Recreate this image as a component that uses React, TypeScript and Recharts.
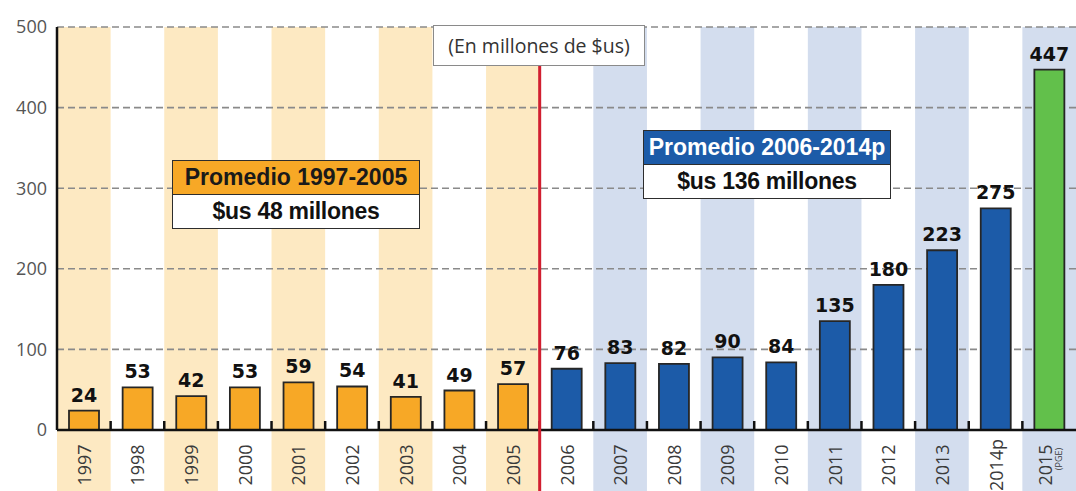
import React from 'react';
import { BarChart, Bar, XAxis, YAxis, ReferenceArea, ReferenceLine, LabelList, Cell } from 'recharts';

const years = ['1997', '1998', '1999', '2000', '2001', '2002', '2003', '2004', '2005', '2006', '2007', '2008', '2009', '2010', '2011', '2012', '2013', '2014p', '2015'];
const amounts = [24, 53, 42, 53, 59, 54, 41, 49, 57, 76, 83, 82, 90, 84, 135, 180, 223, 275, 447];
const periods = ['early', 'early', 'early', 'early', 'early', 'early', 'early', 'early', 'early', 'late', 'late', 'late', 'late', 'late', 'late', 'late', 'late', 'late', 'budget'];
const yearNotes = ['', '', '', '', '', '', '', '', '', '', '', '', '', '', '', '', '', '', '(PGE)'];
const yTicks = [0, 100, 200, 300, 400, 500];
const gridLevels = [100, 200, 300, 400, 500];
const unitNote = '(En millones de $us)';
const avgTitles = ['Promedio 1997-2005', 'Promedio 2006-2014p'];
const avgValues = ['$us 48 millones', '$us 136 millones'];
const splitYear = '2006';

const W = 1076;
const H = 491;
const AXIS_H = 61;
const Y_W = 57;

const barFill: Record<string, string> = { early: '#f7a826', late: '#1c5ba8', budget: '#62c04b' };
const bandFill: Record<string, string> = { early: '#fde9c2', late: '#d3ddee', budget: '#d3ddee' };

const data = years.map((year, i) => ({ year, value: amounts[i], period: periods[i] }));

const BandShape = (p: any) => (
  <rect x={p.x} y={p.y} width={p.width} height={p.height + AXIS_H} fill={p.fill} stroke="none" />
);

const SplitLine = (p: any) => {
  const top = Math.min(p.y1, p.y2);
  const bottom = Math.max(p.y1, p.y2);
  return <line x1={p.x1} x2={p.x2} y1={top} y2={bottom + AXIS_H} stroke="#d11f30" strokeWidth={3} />;
};

// short upward tick at each category boundary
const EdgeTick = (p: any) => {
  const bottom = Math.max(p.y1, p.y2);
  return <line x1={p.x1} x2={p.x2} y1={bottom - 9} y2={bottom} stroke="#111" strokeWidth={2.5} />;
};

const YearTick = (props: any) => {
  const { x, y, payload, index } = props;
  const note = yearNotes[index];
  return (
    <g>
      <text
        transform={`translate(${note ? x - 4 : x},${y + 35}) rotate(-90)`}
        textAnchor="middle"
        dominantBaseline="central"
        fontSize={18}
        fontFamily="'Open Sans', sans-serif"
        fill="#3a3a3a"
      >
        {payload.value}
      </text>
      {note && (
        <text
          transform={`translate(${x + 9},${y + 29}) rotate(-90)`}
          textAnchor="middle"
          dominantBaseline="central"
          fontSize={9}
          fontFamily="'Open Sans', sans-serif"
          fill="#3a3a3a"
        >
          {note}
        </text>
      )}
    </g>
  );
};

const boxText: React.CSSProperties = {
  height: 33,
  display: 'flex',
  alignItems: 'center',
  justifyContent: 'center',
  fontFamily: "'Liberation Sans', Arial, sans-serif",
  fontWeight: 700,
  fontSize: 23,
  whiteSpace: 'nowrap',
};

const AvgBox = ({ left, top, title, value, head, headColor }: any) => (
  <div
    style={{
      position: 'absolute',
      left,
      top,
      width: 248,
      border: '1.5px solid #2d2d2d',
      background: '#fff',
      boxSizing: 'border-box',
    }}
  >
    <div style={{ ...boxText, background: head, color: headColor, borderBottom: '1.5px solid #2d2d2d' }}>{title}</div>
    <div style={{ ...boxText, color: '#111', letterSpacing: -0.3 }}>{value}</div>
  </div>
);

export default function App() {
  return (
    <div style={{ position: 'absolute', left: 0, top: 0, width: W, height: H, background: '#fff', overflow: 'hidden' }}>
      <BarChart width={W} height={H} data={data} margin={{ top: 27, right: 0, left: 0, bottom: 0 }}>
        {data.map((d, i) =>
          i % 2 === 0 ? (
            <ReferenceArea
              key={`band-${d.year}`}
              x1={d.year}
              x2={d.year}
              y1={0}
              y2={500}
              fill={bandFill[d.period]}
              fillOpacity={1}
              shape={BandShape}
              zIndex={-80}
            />
          ) : null
        )}
        {gridLevels.map((v) => (
          <ReferenceLine key={`grid-${v}`} y={v} stroke="#8a8a8a" strokeWidth={1.6} strokeDasharray="7 4" zIndex={-60} />
        ))}
        {years.slice(1).map((year) => (
          <ReferenceLine key={`edge-${year}`} x={year} position="start" shape={EdgeTick} zIndex={600} />
        ))}
        <ReferenceLine x={splitYear} position="start" shape={SplitLine} zIndex={700} />
        <Bar dataKey="value" barSize={30} stroke="#262626" strokeWidth={1.8} isAnimationActive={false}>
          {data.map((d) => (
            <Cell key={d.year} fill={barFill[d.period]} />
          ))}
          <LabelList
            dataKey="value"
            position="top"
            offset={9}
            fill="#111"
            fontSize={19}
            fontWeight={700}
            fontFamily="'DejaVu Sans', sans-serif"
          />
        </Bar>
        <XAxis
          dataKey="year"
          interval={0}
          height={AXIS_H}
          tickSize={0}
          tickMargin={0}
          tickLine={false}
          axisLine={{ stroke: '#111', strokeWidth: 2.5 }}
          tick={<YearTick />}
        />
        <YAxis
          domain={[0, 500]}
          ticks={yTicks}
          interval={0}
          width={Y_W}
          tickSize={0}
          tickMargin={10}
          tickLine={false}
          axisLine={{ stroke: '#111', strokeWidth: 2.5 }}
          tick={{ fill: '#555', fontSize: 18, fontFamily: "'Open Sans', sans-serif" }}
        />
      </BarChart>
      <div
        style={{
          position: 'absolute',
          left: 433,
          top: 25,
          width: 212,
          height: 41,
          border: '1.5px solid #8a8a8a',
          background: '#fff',
          boxSizing: 'border-box',
          display: 'flex',
          alignItems: 'center',
          justifyContent: 'center',
          fontFamily: "'Open Sans', sans-serif",
          fontSize: 19.5,
          color: '#333',
          whiteSpace: 'nowrap',
        }}
      >
        {unitNote}
      </div>
      <AvgBox left={172} top={160} title={avgTitles[0]} value={avgValues[0]} head="#f7a826" headColor="#1a1a1a" />
      <AvgBox left={643} top={130} title={avgTitles[1]} value={avgValues[1]} head="#1c5ba8" headColor="#fff" />
    </div>
  );
}
